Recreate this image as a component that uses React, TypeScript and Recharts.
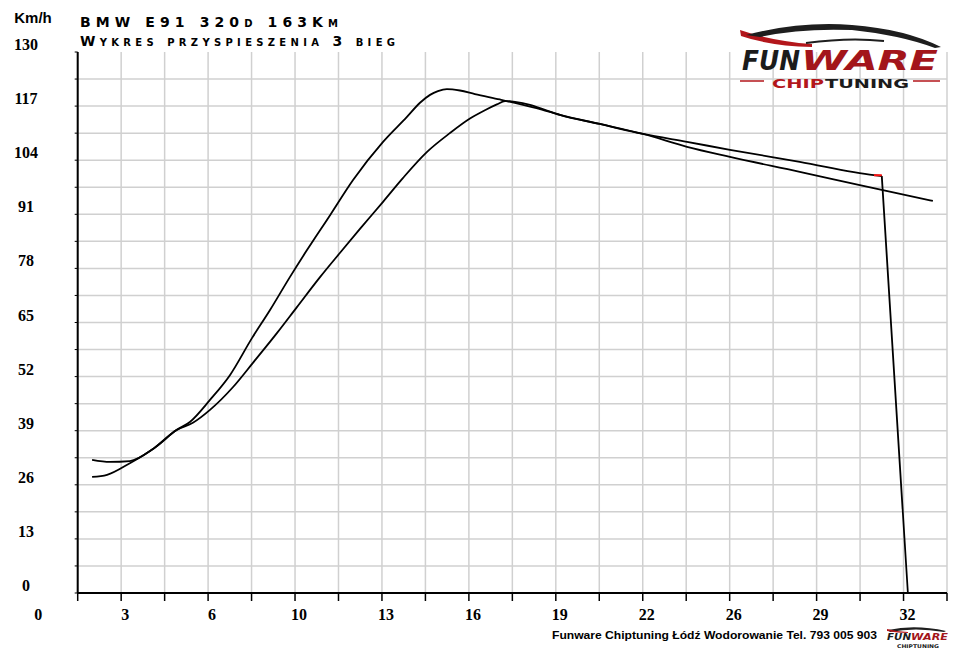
import React from 'react';
import { LineChart, Line, XAxis, YAxis, CartesianGrid } from 'recharts';

// ---- data (time [s] vs speed [km/h]) ----
const timeA = [2.13, 2.79, 3.52, 4.41, 5.25, 5.73, 6.47, 7.21, 8.02, 8.68, 9.41, 10.04, 10.89, 11.73, 12.84, 13.72, 14.2, 14.57, 14.86, 15.19, 15.67, 16.22, 17.14, 17.88, 18.62, 19.35, 20.82, 22.41, 24.03, 25.61, 28.18, 30.39, 33.08];
const speedA = [32.0, 31.5, 31.7, 34.8, 39.2, 41.1, 46.4, 52.4, 61.3, 68.0, 75.9, 82.4, 90.8, 99.2, 108.4, 114.4, 117.8, 119.7, 120.6, 121.1, 120.75, 119.9, 118.6, 117.5, 116.3, 114.9, 112.7, 110.3, 107.2, 104.8, 101.2, 98.0, 94.2];

const timeB = [2.13, 2.68, 3.52, 4.41, 5.25, 5.84, 6.47, 7.32, 8.05, 8.94, 9.67, 10.52, 11.25, 11.99, 12.84, 13.57, 14.46, 15.3, 16.04, 16.59, 17.03, 17.33, 17.7, 18.25, 18.8, 19.35, 20.82, 22.41, 24.03, 25.61, 28.18, 30.91, 31.2];
const speedB = [27.9, 28.4, 31.2, 34.8, 39.2, 40.9, 44.0, 49.5, 55.3, 62.5, 68.7, 75.9, 81.7, 87.5, 94.0, 99.7, 106.0, 110.5, 114.0, 116.0, 117.4, 118.2, 118.0, 117.3, 116.1, 114.9, 112.7, 110.3, 108.4, 106.5, 103.6, 100.4, 100.2];

// end of run B: speed falls to zero
const timeDrop = [31.2, 32.16];
const speedDrop = [100.2, 0];

// red marker at end of run B
const timeRed = [30.91, 31.2];
const speedRed = [100.4, 100.4];

const xTickLabels = ['0', '3', '6', '10', '13', '16', '19', '22', '26', '29', '32'];
const yTickLabels = [0, 13, 26, 39, 52, 65, 78, 91, 104, 117, 130];
const xGridStep = 1.6;
const xGridCount = 21;
const yGridStep = 6.5;
const yGridCount = 21;

const toRows = (xs: number[], ys: number[]) => xs.map((x, i) => ({ x, y: ys[i] }));
const dataA = toRows(timeA, speedA);
const dataB = toRows(timeB, speedB);
const dataDrop = toRows(timeDrop, speedDrop);
const dataRed = toRows(timeRed, speedRed);

const xTicks = Array.from({ length: xGridCount }, (_, i) => +(xGridStep * (i + 1)).toFixed(2));
const yTicks = Array.from({ length: yGridCount }, (_, i) => +(yGridStep * i).toFixed(2));
const yGridValues = yTicks.filter((v) => v < 130);

// ---- layout ----
const W = 960;
const H = 656;
const Y_AXIS_W = 77.7;
const X_AXIS_H = 63;
const MARGIN = { top: 52, right: 13, bottom: 0, left: 0 };
const X_STEP_PX = (W - Y_AXIS_W - MARGIN.right) / (xGridCount - 1);

const tickFont: React.CSSProperties = {
  fontFamily: "'Liberation Serif', 'Times New Roman', serif",
  fontWeight: 'bold',
  fontSize: 16,
  fill: '#000',
};

const XTick = (props: any) => {
  const { x, y, payload, index } = props;
  const k = Math.round(payload.value / xGridStep);
  let label: string | null = null;
  let tx = x;
  if (index === 0) {
    label = xTickLabels[0];
    tx = x - X_STEP_PX;
  } else if (k % 2 === 0) {
    label = xTickLabels[k / 2];
  }
  if (label == null) return <g />;
  return (
    <text x={tx + 4} y={y} dy={19} textAnchor="middle" style={tickFont}>
      {label}
    </text>
  );
};

const YTick = (props: any) => {
  const { x, y, payload } = props;
  const v = Math.round(payload.value * 10) / 10;
  if (!yTickLabels.includes(v)) return <g />;
  return (
    <text x={x - 48.7} y={y} dy={-2} textAnchor="middle" style={tickFont}>
      {v}
    </text>
  );
};

const logoFont = "'DejaVu Sans', sans-serif";
const DARK = '#1b1b1b';
const RED = '#a3151b';

export default function App() {
  return (
    <div style={{ position: 'absolute', left: 0, top: 0, width: W, height: H, background: '#fff', overflow: 'hidden' }}>
      <LineChart width={W} height={H} margin={MARGIN}>
        <CartesianGrid stroke="#d0d0d0" strokeWidth={1.5} horizontalValues={yGridValues} verticalValues={xTicks} />
        <XAxis
          type="number"
          dataKey="x"
          domain={[xTicks[0], xTicks[xTicks.length - 1]]}
          ticks={xTicks}
          interval={0}
          height={X_AXIS_H}
          tickSize={8}
          tickMargin={0}
          axisLine={{ stroke: '#000', strokeWidth: 2 }}
          tickLine={{ stroke: '#000', strokeWidth: 1.5 }}
          tick={<XTick />}
          allowDataOverflow
        />
        <YAxis
          type="number"
          domain={[0, 130]}
          ticks={yTicks}
          interval={0}
          width={Y_AXIS_W}
          tickSize={3}
          tickMargin={0}
          axisLine={{ stroke: '#000', strokeWidth: 2 }}
          tickLine={{ stroke: '#000', strokeWidth: 1 }}
          tick={<YTick />}
          allowDataOverflow
        />
        <Line data={dataB} dataKey="y" type="monotone" stroke="#000" strokeWidth={1.8} dot={false} isAnimationActive={false} />
        <Line data={dataDrop} dataKey="y" type="linear" stroke="#000" strokeWidth={1.8} dot={false} isAnimationActive={false} />
        <Line data={dataA} dataKey="y" type="monotone" stroke="#000" strokeWidth={1.8} dot={false} isAnimationActive={false} />
        <Line data={dataRed} dataKey="y" type="linear" stroke="#ff1010" strokeWidth={2} dot={false} isAnimationActive={false} />
      </LineChart>

      <svg width={W} height={H} style={{ position: 'absolute', left: 0, top: 0, pointerEvents: 'none' }}>
        <text x={33} y={23} textAnchor="middle" fontFamily="'Liberation Sans', Arial, sans-serif" fontWeight="bold" fontSize={15} fill="#000">
          Km/h
        </text>
        <text x={80} y={27} textLength={258} lengthAdjust="spacing" fontFamily={logoFont} fontWeight="bold" fontSize={14} fill="#000" style={{ fontVariant: 'small-caps' }}>
          BMW E91 320d 163Km
        </text>
        <text x={80} y={46} textLength={315} lengthAdjust="spacing" fontFamily={logoFont} fontWeight="bold" fontSize={14} fill="#000" style={{ fontVariant: 'small-caps' }}>
          Wykres przyspieszenia 3 bieg
        </text>

        {/* main logo */}
        <path d="M740 30 Q 772 41 812 44 L 812 47 Q 770 46 741 36 Z" fill="#b3161b" />
        <path d="M746 35 Q 800 21 852 25 Q 905 29 941 47 L 935 48 Q 900 35 852 30 Q 800 28 760 37 Z" fill="#1e1e1e" />
        <path d="M806 43 Q 850 37 884 41" stroke="#1e1e1e" strokeWidth={2} fill="none" />
        <text x={742} y={70} textLength={58} lengthAdjust="spacingAndGlyphs" fontFamily={logoFont} fontWeight="bold" fontStyle="italic" fontSize={26} fill={DARK}>
          FUN
        </text>
        <text x={801} y={70} textLength={137} lengthAdjust="spacingAndGlyphs" fontFamily={logoFont} fontWeight="bold" fontStyle="italic" fontSize={26} fill={RED}>
          WARE
        </text>
        <line x1={740} y1={81} x2={764} y2={81} stroke="#b3161b" strokeWidth={1.5} />
        <line x1={913} y1={81} x2={940} y2={81} stroke="#b3161b" strokeWidth={1.5} />
        <text x={772} y={88} textLength={52} lengthAdjust="spacingAndGlyphs" fontFamily={logoFont} fontWeight="bold" fontSize={13} fill="#b3161b">
          CHIP
        </text>
        <text x={825} y={88} textLength={84} lengthAdjust="spacingAndGlyphs" fontFamily={logoFont} fontWeight="bold" fontSize={13} fill={DARK}>
          TUNING
        </text>

        {/* footer */}
        <text x={552} y={639} textLength={325} lengthAdjust="spacingAndGlyphs" fontFamily="'Liberation Sans', Arial, sans-serif" fontWeight="bold" fontSize={11} fill="#000">
          Funware Chiptuning Łódź Wodorowanie Tel. 793 005 903
        </text>
        <path d="M888 630 Q 915 624 946 631 L 944 632 Q 915 627 890 632 Z" fill="#1e1e1e" />
        <path d="M887 629 Q 898 632 908 632 L 908 633 Q 897 633 887 631 Z" fill="#b3161b" />
        <text x={887} y={640} textLength={24} lengthAdjust="spacingAndGlyphs" fontFamily={logoFont} fontWeight="bold" fontStyle="italic" fontSize={9.5} fill={DARK}>
          FUN
        </text>
        <text x={911} y={640} textLength={37} lengthAdjust="spacingAndGlyphs" fontFamily={logoFont} fontWeight="bold" fontStyle="italic" fontSize={9.5} fill={RED}>
          WARE
        </text>
        <text x={897} y={648} textLength={42} lengthAdjust="spacingAndGlyphs" fontFamily={logoFont} fontWeight="bold" fontSize={5} fill={DARK}>
          CHIPTUNING
        </text>
      </svg>
    </div>
  );
}
